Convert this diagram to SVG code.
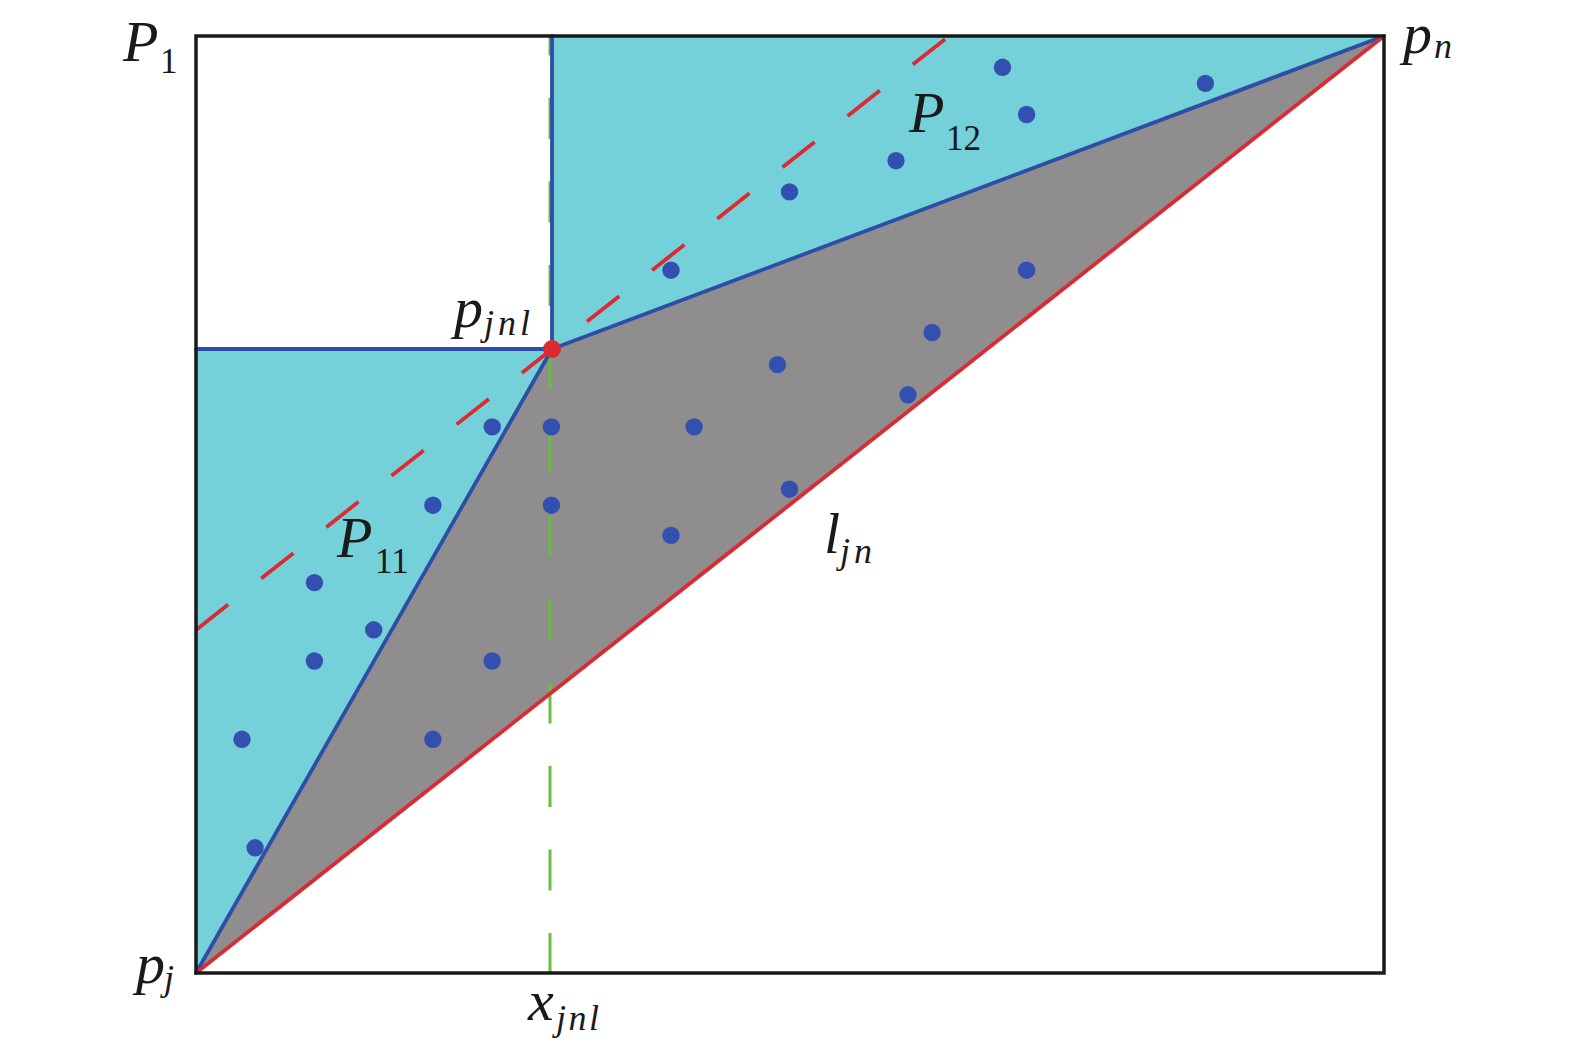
<svg xmlns="http://www.w3.org/2000/svg" width="1575" height="1047" viewBox="0 0 1575 1047">
<style>
.cyan{fill:#74d1d9;stroke:none}
.gray{fill:#8f8d8e;stroke:none}
.blue{stroke:#2e4ea6;stroke-width:3.8;fill:none;stroke-linecap:round}
.red{stroke:#dc2a33;stroke-width:3.8;fill:none}
.redd{stroke:#dc2a33;stroke-width:3.8;fill:none;stroke-dasharray:41 42}
.green{stroke:#69be3c;stroke-width:3;fill:none;stroke-dasharray:41 42.5;stroke-dashoffset:21.5}
.frame{stroke:#1a1a1a;stroke-width:3.5;fill:none}
.dot{fill:#3350b0}
.lab{font-family:'Liberation Serif','Times New Roman','DejaVu Serif',serif;font-style:italic;fill:#1a1a1a}
.sub{font-family:'Liberation Serif','Times New Roman','DejaVu Serif',serif;font-style:normal;fill:#1a1a1a}
</style>
<rect width="1575" height="1047" fill="#ffffff"/>
<g id="regions">
<polygon id="P12" class="cyan" points="552,36 1384,36 552,349"/>
<polygon id="P11" class="cyan" points="196,349 552,349 196,973"/>
<polygon id="core" class="gray" points="196,973 552,349 1384,36"/>
</g>
<g id="connectors">
<line id="xjnl-line" class="green" x1="550" y1="36" x2="550" y2="973"/>
<polyline class="blue" points="196,349 552,349 552,36"/>
<line class="blue" x1="552" y1="349" x2="1384" y2="36"/>
<line class="blue" x1="196" y1="973" x2="552" y2="349"/>
<line id="ljn" class="red" x1="196" y1="973" x2="1384" y2="36"/>
<line class="redd" x1="196" y1="630" x2="949" y2="36"/>
</g>
<g id="frame">
<rect class="frame" x="196" y="36" width="1188" height="937"/>
</g>
<g id="points">
<circle class="dot" cx="1002.5" cy="67.3" r="8.7"/>
<circle class="dot" cx="1205.4" cy="83.4" r="8.7"/>
<circle class="dot" cx="1026.6" cy="114.5" r="8.7"/>
<circle class="dot" cx="896" cy="160.7" r="8.7"/>
<circle class="dot" cx="789.5" cy="191.9" r="8.7"/>
<circle class="dot" cx="671" cy="270.2" r="8.7"/>
<circle class="dot" cx="1026.6" cy="270.2" r="8.7"/>
<circle class="dot" cx="932.1" cy="332.5" r="8.7"/>
<circle class="dot" cx="777.5" cy="364.6" r="8.7"/>
<circle class="dot" cx="908" cy="394.8" r="8.7"/>
<circle class="dot" cx="492.2" cy="426.9" r="8.7"/>
<circle class="dot" cx="551.4" cy="426.9" r="8.7"/>
<circle class="dot" cx="694.1" cy="426.9" r="8.7"/>
<circle class="dot" cx="432.9" cy="505.2" r="8.7"/>
<circle class="dot" cx="551.4" cy="505.2" r="8.7"/>
<circle class="dot" cx="789.5" cy="489.2" r="8.7"/>
<circle class="dot" cx="671" cy="535.4" r="8.7"/>
<circle class="dot" cx="314.4" cy="582.6" r="8.7"/>
<circle class="dot" cx="373.7" cy="629.8" r="8.7"/>
<circle class="dot" cx="314.4" cy="661" r="8.7"/>
<circle class="dot" cx="492.2" cy="661" r="8.7"/>
<circle class="dot" cx="242" cy="739.3" r="8.7"/>
<circle class="dot" cx="432.9" cy="739.3" r="8.7"/>
<circle class="dot" cx="255.1" cy="847.8" r="8.7"/>
</g>
<g id="pjnl">
<circle cx="552" cy="349" r="9" fill="#dc2a33"/>
<text class="lab" x="454" y="327" font-size="58">p</text>
<text class="lab" x="484" y="335" font-size="36" textLength="46" lengthAdjust="spacing">jnl</text>
</g>
<g id="labels">
<g id="lab-P1"><text class="lab" x="123" y="61" font-size="58">P</text><text class="sub" x="160" y="73" font-size="35">1</text></g>
<g id="lab-pn"><text class="lab" x="1403" y="53" font-size="58">p</text><text class="lab" x="1434" y="58" font-size="36">n</text></g>
<g id="lab-pj"><text class="lab" x="136" y="983" font-size="58">p</text><text class="lab" x="164" y="990" font-size="36">j</text></g>
<g id="lab-xjnl"><text class="lab" x="528" y="1020" font-size="58">x</text><text class="lab" x="556" y="1030" font-size="36" textLength="43" lengthAdjust="spacing">jnl</text></g>
<g id="lab-ljn"><text class="lab" x="824" y="553" font-size="58">l</text><text class="lab" x="840" y="563" font-size="36" textLength="32" lengthAdjust="spacing">jn</text></g>
<g id="lab-P11"><text class="lab" x="337" y="557" font-size="58">P</text><text class="sub" x="375" y="573" font-size="35">11</text></g>
<g id="lab-P12"><text class="lab" x="909" y="132" font-size="58">P</text><text class="sub" x="946" y="150" font-size="35">12</text></g>
</g>
</svg>
